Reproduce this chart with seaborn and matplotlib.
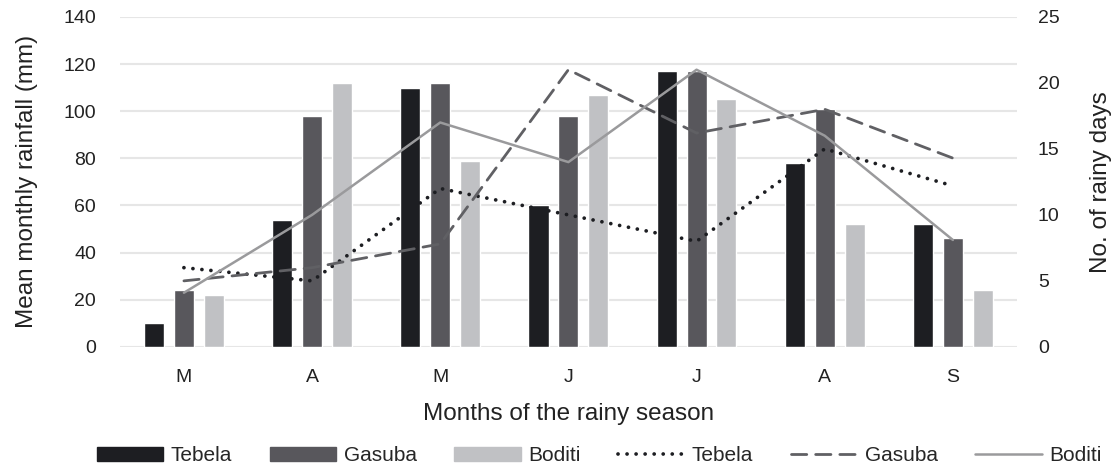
import numpy as np
import pandas as pd
import matplotlib
matplotlib.use("Agg")
import matplotlib.pyplot as plt
import seaborn as sns
from matplotlib.patches import Patch
from matplotlib.lines import Line2D

# data
months = ["Mar", "Apr", "May", "Jun", "Jul", "Aug", "Sep"]
month_labels = ["M", "A", "M", "J", "J", "A", "S"]
stations = ["Tebela", "Gasuba", "Boditi"]

rain_tebela = [10, 54, 110, 60, 117, 78, 52]
rain_gasuba = [24, 98, 112, 98, 117, 101, 46]
rain_boditi = [22, 112, 79, 107, 105, 52, 24]

days_tebela = [6, 5, 12, 10, 8, 15, 12.2]
days_gasuba = [5, 6, 7.8, 21, 16.2, 18, 14.3]
days_boditi = [4.1, 10, 17, 14, 21, 16, 8.1]

bar_colors = ["#1d1e22", "#58575c", "#c0c1c4"]
line_colors = ["#1d1e22", "#606064", "#9a9a9c"]

rain = pd.DataFrame({
    "month": np.tile(months, 3),
    "station": np.repeat(stations, len(months)),
    "rain": rain_tebela + rain_gasuba + rain_boditi,
})
pos = np.arange(len(months))
days = pd.DataFrame({
    "pos": np.tile(pos, 3),
    "station": np.repeat(stations, len(months)),
    "days": days_tebela + days_gasuba + days_boditi,
})

sns.set_theme(style="white")
plt.rcParams["font.family"] = ["Liberation Sans", "DejaVu Sans"]

fig, ax = plt.subplots(figsize=(11.2, 4.7), dpi=100)
fig.subplots_adjust(left=0.107, right=0.908, top=0.964, bottom=0.262)

sns.barplot(data=rain, x="month", y="rain", hue="station", order=months,
            hue_order=stations, palette=bar_colors, width=0.7, gap=0.33,
            saturation=1, ax=ax, legend=False, zorder=2)

ax2 = ax.twinx()
styles = {"Tebela": (0, (0.01, 2.4)), "Gasuba": (0, (5.5, 3.2)), "Boditi": "-"}
widths = {"Tebela": 2.7, "Gasuba": 2.0, "Boditi": 1.8}
for st, col in zip(stations, line_colors):
    sub = days[days["station"] == st]
    sns.lineplot(data=sub, x="pos", y="days", color=col, ax=ax2,
                 linestyle=styles[st], linewidth=widths[st],
                 dash_capstyle="round", legend=False)

ax.set_ylim(0, 140)
ax.set_yticks(range(0, 141, 20))
ax2.set_ylim(0, 25)
ax2.set_yticks(range(0, 26, 5))
ax.set_xlim(-0.5, len(months) - 0.5)
ax.set_xticks(pos)
ax.set_xticklabels(month_labels)

ax.grid(axis="y", color="#e6e6e6", linewidth=1.5, zorder=0)
ax.set_axisbelow(True)
for a in (ax, ax2):
    for s in a.spines.values():
        s.set_visible(False)
    a.tick_params(length=0, labelsize=14, colors="#222222")
ax.tick_params(axis="y", pad=17)
ax.tick_params(axis="x", pad=16)
ax2.tick_params(axis="y", pad=15)

ax.set_xlabel("Months of the rainy season", fontsize=17.5, color="#222222", labelpad=12)
ax.set_ylabel("Mean monthly rainfall (mm)", fontsize=17.5, color="#222222", labelpad=18)
ax2.set_ylabel("No. of rainy days", fontsize=17.5, color="#222222", labelpad=22)
ax2.set_xlabel("")

handles = [Patch(color=c) for c in bar_colors]
handles += [Line2D([], [], color=c, linestyle=styles[s], linewidth=widths[s],
                   dash_capstyle="round")
            for s, c in zip(stations, line_colors)]
labels = stations + stations
fig.legend(handles, labels, loc="lower center", bbox_to_anchor=(0.535, -0.03),
           ncol=6, frameon=False, fontsize=15, handlelength=3.2,
           handleheight=0.6, handletextpad=0.35, columnspacing=1.8)

fig.savefig("out.png", dpi=100)
